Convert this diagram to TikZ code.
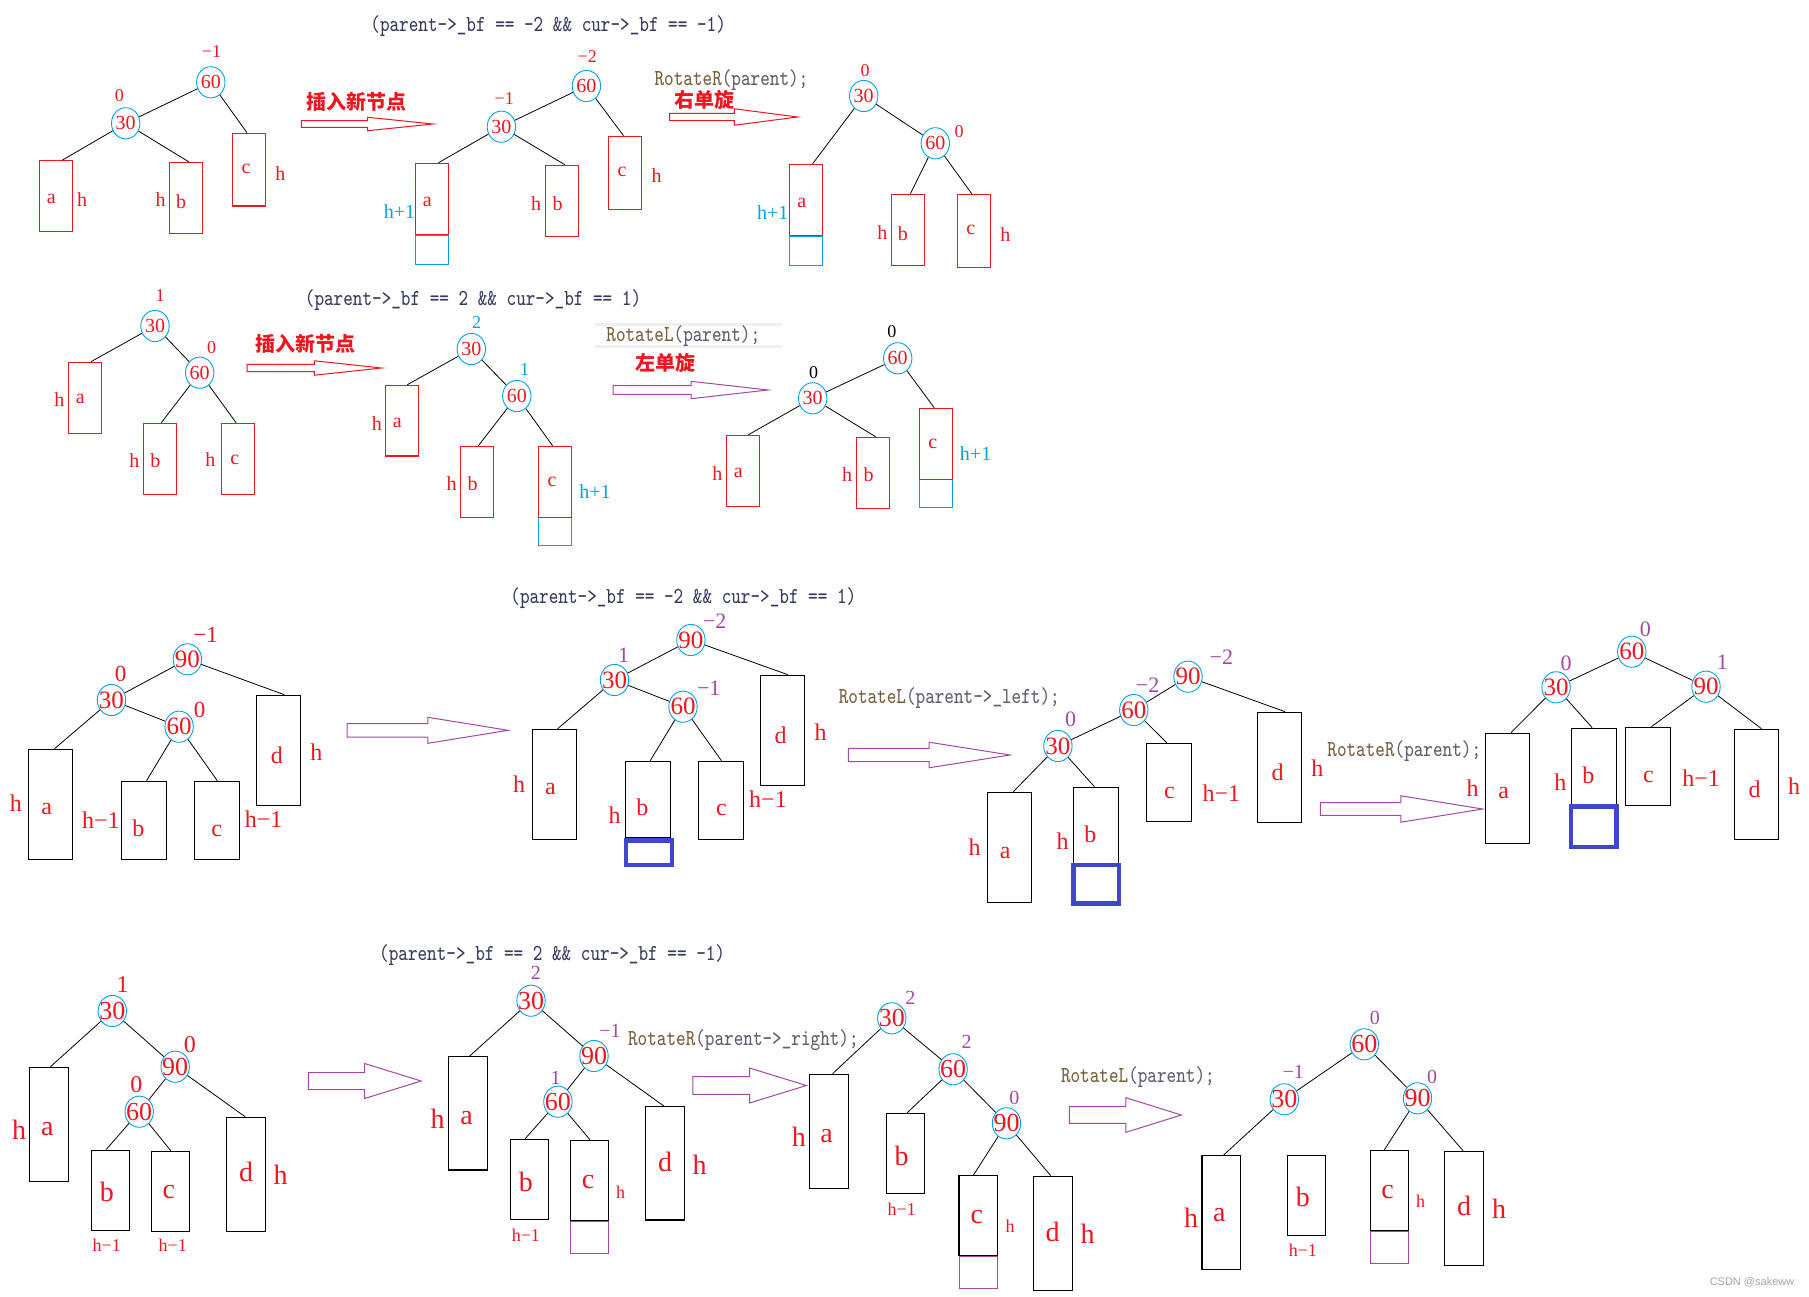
\documentclass[tikz,border=0pt]{standalone}
\usepackage{fontspec}
\setmainfont{Liberation Serif}
\newfontfamily\cjk{Noto Sans CJK SC}
\newfontfamily\wmfont{Liberation Sans}
\usetikzlibrary{shapes.geometric,fit,calc}
\definecolor{pred}{RGB}{240,22,32}
\definecolor{pcyan}{RGB}{0,162,232}
\definecolor{ppurple}{RGB}{163,73,164}
\definecolor{pblue}{RGB}{63,72,204}
\definecolor{condc}{RGB}{55,60,95}
\definecolor{rotc}{RGB}{120,95,60}
\definecolor{rotg}{RGB}{95,95,110}
\newcommand\fA{\fontsize{10}{12}\selectfont}
\newcommand\fAs{\fontsize{9}{11}\selectfont}
\newcommand\fB{\fontsize{12}{14}\selectfont}
\newcommand\fBn{\fontsize{12.5}{14}\selectfont}
\newcommand\fBs{\fontsize{11.5}{13}\selectfont}
\newcommand\fBp{\fontsize{11}{13}\selectfont}
\newcommand\fC{\fontsize{14}{16}\selectfont}
\newcommand\fCn{\fontsize{13}{15}\selectfont}
\newcommand\fCs{\fontsize{12}{14}\selectfont}
\newcommand\fCp{\fontsize{10}{12}\selectfont}
\newcommand\fCt{\fontsize{9}{11}\selectfont}
\newcounter{lc}
\newcommand\NN[5]{\node[en,font=#5] (#1) at (#2,#3) {\makebox[0pt]{#4}};}
\newcommand\BX[6]{\path (#3,#4) coordinate (#1p) (#5,#6) coordinate (#1q); \node[#2,fit=(#1p)(#1q)] (#1) {};}
\newcommand\LK[3]{\draw[lnk] (#1) -- ($(#2.north west)!#3!(#2.north east)$);}
\newcommand\EE[2]{\draw[lnk] (#1) -- (#2);}
\newcommand\LB[4]{\stepcounter{lc}\node[#1] (t\arabic{lc}) at (#2,#3) {#4};}
\newcommand\HA[7]{\draw[draw=#7,line width=0.5pt] (#1,{#4-#5}) -- (#2,{#4-#5}) -- (#2,{#4-#6}) -- (#3,#4) -- (#2,{#4+#6}) -- (#2,{#4+#5}) -- (#1,{#4+#5}) -- cycle;}
\begin{document}
\begin{tikzpicture}[x=0.5pt,y=-0.5pt,
 en/.style={ellipse,draw=pcyan,line width=0.45pt,minimum width=14.2pt,minimum height=15.6pt,inner sep=0pt,text=pred},
 lnk/.style={line width=0.4pt,black},
 rb/.style={draw=pred,line width=0.6pt,inner sep=0pt},
 kb/.style={draw=black,line width=0.6pt,inner sep=0pt},
 cb/.style={draw=pcyan,line width=0.6pt,inner sep=0pt},
 pb/.style={draw=ppurple,line width=0.5pt,inner sep=0pt},
 bb/.style={draw=pblue,line width=2.25pt,inner sep=0pt},
 lab/.style={inner sep=0pt},
 rA/.style={lab,text=pred,font=\fA},
 rAs/.style={lab,text=pred,font=\fAs},
 cA/.style={lab,text=pcyan,font=\fA},
 cAs/.style={lab,text=pcyan,font=\fAs},
 kAs/.style={lab,text=black,font=\fAs},
 rB/.style={lab,text=pred,font=\fB},
 rBs/.style={lab,text=pred,font=\fBs},
 pBs/.style={lab,text=ppurple,font=\fBp},
 rC/.style={lab,text=pred,font=\fC},
 rCs/.style={lab,text=pred,font=\fCs},
 pCs/.style={lab,text=ppurple,font=\fCp},
 rCt/.style={lab,text=pred,font=\fCt},
 code/.style={anchor=west,inner sep=0pt,text=condc,font=\ttfamily\fontsize{9.15}{11}\selectfont},
 zh/.style={inner sep=0pt,text=pred,font=\cjk\fontsize{10}{12}\selectfont\bfseries}]
\fill[white] (0,0) rectangle (1809,1296);
\useasboundingbox (0,0) rectangle (1809,1296);

% ===== code texts =====
\node[code] (k1) at (370,26) {\scalebox{1}[1.25]{(parent->\_bf == -2 \&\& cur->\_bf == -1)}};
\node[code] (k2) at (304.5,300) {\scalebox{1}[1.25]{(parent->\_bf == 2 \&\& cur->\_bf == 1)}};
\node[code] (k3) at (510,598.3) {\scalebox{1}[1.25]{(parent->\_bf == -2 \&\& cur->\_bf == 1)}};
\node[code] (k4) at (378.8,955) {\scalebox{1}[1.25]{(parent->\_bf == 2 \&\& cur->\_bf == -1)}};
\fill[gray!12] (595,322.7) rectangle (782,326);
\fill[gray!12] (595,345) rectangle (782,347.7);
\node[code] (k5) at (654.2,80) {\scalebox{1}[1.25]{\textcolor{rotc}{RotateR}\textcolor{rotg}{(parent);}}};
\node[code] (k6) at (606,336) {\scalebox{1}[1.25]{\textcolor{rotc}{RotateL}\textcolor{rotg}{(parent);}}};
\node[code] (k7) at (838.4,698.3) {\scalebox{1}[1.25]{\textcolor{rotc}{RotateL}\textcolor{rotg}{(parent->\_left);}}};
\node[code] (k8) at (1327,751) {\scalebox{1}[1.25]{\textcolor{rotc}{RotateR}\textcolor{rotg}{(parent);}}};
\node[code] (k9) at (627.7,1040) {\scalebox{1}[1.25]{\textcolor{rotc}{RotateR}\textcolor{rotg}{(parent->\_right);}}};
\node[code] (k10) at (1060.6,1076.7) {\scalebox{1}[1.25]{\textcolor{rotc}{RotateL}\textcolor{rotg}{(parent);}}};

% ===== chinese labels =====
\node[zh] (z1) at (356.9,101.7) {插入新节点};
\node[zh] (z2) at (704.5,100) {右单旋};
\node[zh] (z3) at (305.5,344) {插入新节点};
\node[zh] (z4) at (665,363.3) {左单旋};

% ===== arrows =====
\HA{301.3}{367.7}{433}{124}{3.3}{6.7}{pred}
\HA{669.6}{734.4}{797.7}{117}{3.7}{8.2}{pred}
\HA{247.1}{314.4}{381.6}{368}{3.7}{7.2}{pred}
\HA{613}{691}{768}{390}{4.3}{8.7}{ppurple}
\HA{347.2}{427.9}{508.1}{730.3}{6.7}{13}{ppurple}
\HA{848.3}{929}{1010}{755}{6.7}{12.8}{ppurple}
\HA{1320.4}{1400.8}{1482.7}{809}{6.3}{13.2}{ppurple}
\HA{308.4}{364.6}{421.1}{1081}{8.5}{17.5}{ppurple}
\HA{692.9}{749.5}{806.4}{1085.5}{8.8}{17.5}{ppurple}
\HA{1069.4}{1125.9}{1181.3}{1115}{8.3}{17.3}{ppurple}

% ===== Row 1 Tree 1 =====
\NN{aA}{210.8}{82.3}{60}{\fA}
\NN{aB}{125.7}{123.3}{30}{\fA}
\LB{rAs}{211.5}{52}{−1}
\LB{rAs}{119.4}{95.7}{0}
\BX{aa}{rb}{39.5}{160.7}{72.8}{231.3}
\BX{ab}{rb}{169.2}{162.7}{202.4}{233.3}
\BX{ac}{rb}{232.1}{133.3}{265.3}{206}
\LB{rA}{51.4}{199.3}{a}\LB{rA}{82.2}{199.3}{h}
\LB{rA}{160.5}{200}{h}\LB{rA}{181.1}{201.7}{b}
\LB{rA}{246}{169.3}{c}\LB{rA}{280.3}{173.3}{h}
\EE{aA}{aB}\LK{aB}{aa}{0.68}\LK{aB}{ab}{0.6}\LK{aA}{ac}{0.45}

% ===== Row 1 Tree 2 =====
\NN{bA}{586.4}{86}{60}{\fA}
\NN{bB}{501.4}{126.7}{30}{\fA}
\LB{rAs}{587.2}{56.7}{−2}
\LB{rAs}{504.2}{98.3}{−1}
\BX{bx}{cb}{415.6}{235.3}{448.4}{264.3}
\BX{ba}{rb}{415.6}{163.3}{448.4}{234.3}
\BX{bb2}{rb}{545.7}{165.3}{578.5}{236.3}
\BX{bc}{rb}{608.3}{136.3}{641.5}{209.3}
\LB{rA}{427.4}{201.7}{a}\LB{cA}{399.4}{211.7}{h+1}
\LB{rA}{536.2}{203.3}{h}\LB{rA}{557.5}{203.3}{b}
\LB{rA}{622.1}{172.3}{c}\LB{rA}{656.5}{175.7}{h}
\EE{bA}{bB}\LK{bB}{ba}{0.69}\LK{bB}{bb2}{0.58}\LK{bA}{bc}{0.46}

% ===== Row 1 Tree 3 =====
\NN{cA}{863.7}{96}{30}{\fA}
\NN{cB}{935.3}{143.3}{60}{\fA}
\LB{rAs}{865}{70.7}{0}
\LB{rAs}{959}{131.7}{0}
\BX{cx}{cb}{789.8}{236.3}{822.6}{265.7}
\BX{ca}{rb}{789.8}{164.3}{822.6}{235.7}
\BX{cb2}{rb}{891.4}{194.3}{924.6}{265.7}
\BX{cc}{rb}{957.5}{194.3}{990.7}{267.3}
\LB{rA}{801.7}{203.3}{a}\LB{cA}{772.8}{212.3}{h+1}
\LB{rA}{882.3}{232.3}{h}\LB{rA}{902.9}{233.3}{b}
\LB{rA}{970.9}{230}{c}\LB{rA}{1005.3}{234.3}{h}
\EE{cA}{cB}\LK{cA}{ca}{0.69}\LK{cB}{cb2}{0.57}\LK{cB}{cc}{0.43}

% ===== Row 2 Tree 1 =====
\NN{dA}{155}{326}{30}{\fA}
\NN{dB}{199.7}{372.7}{60}{\fA}
\LB{rAs}{160.1}{296}{1}
\LB{rAs}{211.5}{347.7}{0}
\BX{da}{rb}{68.8}{362.3}{101.6}{433.3}
\BX{db}{rb}{143.5}{423.3}{176.4}{494.3}
\BX{dc}{rb}{221.4}{423.3}{254.2}{494.3}
\LB{rA}{59.3}{399.3}{h}\LB{rA}{80.3}{399.3}{a}
\LB{rA}{134.4}{461}{h}\LB{rA}{155.4}{461}{b}
\LB{rA}{210.4}{460}{h}\LB{rA}{234.9}{460}{c}
\EE{dA}{dB}\LK{dA}{da}{0.67}\LK{dB}{db}{0.54}\LK{dB}{dc}{0.45}

% ===== Row 2 Tree 2 =====
\NN{eA}{471.3}{349}{30}{\fA}
\NN{eB}{516.8}{396}{60}{\fA}
\LB{cAs}{476.5}{322.7}{2}
\LB{cAs}{524.7}{370}{1}
\BX{ex}{cb}{538.5}{517.3}{571.4}{545.3}
\BX{ea}{rb}{385.5}{385.3}{418.3}{456}
\BX{eb}{rb}{460.3}{446.3}{493.1}{517.3}
\BX{ec}{rb}{538.5}{446.3}{571.4}{517.3}
\LB{rA}{376.8}{423.3}{h}\LB{rA}{397.4}{423.3}{a}
\LB{rA}{451.6}{484}{h}\LB{rA}{472.5}{484}{b}
\LB{rA}{552}{482.3}{c}\LB{cA}{595.1}{491.7}{h+1}
\EE{eA}{eB}\LK{eA}{ea}{0.66}\LK{eB}{eb}{0.55}\LK{eB}{ec}{0.43}

% ===== Row 2 Tree 3 =====
\NN{fA}{897.7}{358.3}{60}{\fA}
\NN{fB}{812.7}{398.3}{30}{\fA}
\LB{kAs}{891.8}{331.7}{0}
\LB{kAs}{813.5}{372.7}{0}
\BX{fx}{cb}{919.5}{479.3}{952.3}{507.7}
\BX{fa}{rb}{726.5}{435.3}{759.4}{506.7}
\BX{fb}{rb}{856.2}{437.3}{889.4}{508.7}
\BX{fc}{rb}{919.5}{408.3}{952.3}{479.3}
\LB{rA}{717.4}{473.3}{h}\LB{rA}{738.4}{473.3}{a}
\LB{rA}{847.1}{475}{h}\LB{rA}{868.5}{475}{b}
\LB{rA}{932.9}{444}{c}\LB{cA}{975.6}{453.3}{h+1}
\EE{fA}{fB}\LK{fB}{fa}{0.66}\LK{fB}{fb}{0.58}\LK{fA}{fc}{0.45}

% ===== Row 3 Tree 1 =====
\NN{gA}{187.4}{659.3}{90}{\fBn}
\NN{gB}{111.5}{700}{30}{\fBn}
\NN{gC}{179.1}{726.7}{60}{\fBn}
\LB{rBs}{205.6}{635}{−1}
\LB{rBs}{120.6}{674.3}{0}
\LB{rBs}{199.7}{710}{0}
\BX{ga}{kb}{28.5}{749.3}{72.4}{859.3}
\BX{gb}{kb}{121.4}{781.3}{166.1}{859.3}
\BX{gc}{kb}{194.5}{781.3}{239.2}{859.3}
\BX{gd}{kb}{256.2}{695.3}{300.5}{805.3}
\LB{rB}{15.8}{803.3}{h}\LB{rB}{46.7}{809.3}{a}
\LB{rB}{100.8}{820}{h−1}\LB{rB}{138.4}{828.3}{b}
\LB{rB}{216.7}{830.7}{c}\LB{rB}{263.7}{819}{h−1}
\LB{rB}{276.8}{755}{d}\LB{rB}{316.3}{751.7}{h}
\EE{gA}{gB}\EE{gB}{gC}\LK{gB}{ga}{0.59}\LK{gC}{gb}{0.56}\LK{gC}{gc}{0.51}\LK{gA}{gd}{0.63}

% ===== Row 3 Tree 2 =====
\NN{hA}{690.9}{640}{90}{\fBn}
\NN{hB}{614.5}{680}{30}{\fBn}
\NN{hC}{683}{706.7}{60}{\fBn}
\LB{pBs}{714.7}{621.7}{−2}
\LB{pBs}{623.7}{655}{1}
\LB{pBs}{708.7}{688.3}{−1}
\BX{ha}{kb}{532.6}{729.3}{576.5}{839.3}
\BX{hb}{kb}{625.3}{761.3}{670.4}{837.3}
\BX{hx}{bb}{626}{840.5}{672}{865}
\BX{hc}{kb}{698.5}{761.3}{743.5}{839.3}
\BX{hd}{kb}{760.5}{675.3}{804.4}{785.3}
\LB{rB}{519.2}{784}{h}\LB{rB}{550.4}{789.3}{a}
\LB{rB}{614.5}{815}{h}\LB{rB}{642.3}{807.7}{b}
\LB{rB}{721.4}{810}{c}\LB{rB}{768}{799.3}{h−1}
\LB{rB}{780.7}{735}{d}\LB{rB}{820.6}{731.7}{h}
\EE{hA}{hB}\EE{hB}{hC}\LK{hB}{ha}{0.57}\LK{hC}{hb}{0.55}\LK{hC}{hc}{0.51}\LK{hA}{hd}{0.62}

% ===== Row 3 Tree 3 =====
\NN{iA}{1188}{676.7}{90}{\fBn}
\NN{iB}{1133.8}{710}{60}{\fBn}
\NN{iC}{1057.9}{746}{30}{\fBn}
\LB{pBs}{1221.4}{657.3}{−2}
\LB{pBs}{1147.6}{685}{−2}
\LB{pBs}{1070.5}{719.3}{0}
\BX{ia}{kb}{987.5}{792.3}{1031.8}{902.3}
\BX{ib}{kb}{1073.3}{787.3}{1118.4}{863.3}
\BX{ix}{bb}{1073.5}{865}{1119}{903.7}
\BX{ic}{kb}{1146.5}{743.3}{1191.5}{821.3}
\BX{id}{kb}{1257.5}{712.3}{1301.7}{822.3}
\LB{rB}{974.5}{846.7}{h}\LB{rB}{1005.3}{852.7}{a}
\LB{rB}{1062.6}{841}{h}\LB{rB}{1090.3}{834}{b}
\LB{rB}{1169.4}{792.7}{c}\LB{rB}{1221.4}{793.3}{h−1}
\LB{rB}{1277.7}{772.7}{d}\LB{rB}{1317.3}{768.3}{h}
\EE{iA}{iB}\EE{iB}{iC}\LK{iC}{ia}{0.58}\LK{iC}{ib}{0.47}\LK{iB}{ic}{0.45}\LK{iA}{id}{0.62}

% ===== Row 3 Tree 4 =====
\NN{jA}{1631.8}{651.7}{60}{\fBn}
\NN{jB}{1556.1}{687.3}{30}{\fBn}
\NN{jC}{1706}{686.7}{90}{\fBn}
\LB{pBs}{1645.4}{629.3}{0}
\LB{pBs}{1566.2}{663.3}{0}
\LB{pBs}{1722.3}{662.7}{1}
\BX{ja}{kb}{1485.4}{733.3}{1529.3}{843.3}
\BX{jb}{kb}{1571.7}{728.3}{1616.3}{804.3}
\BX{jx}{bb}{1571.2}{806.3}{1616.3}{847}
\BX{jc}{kb}{1625.6}{727.3}{1670.7}{805.3}
\BX{jd}{kb}{1734.4}{729.3}{1778.6}{839.3}
\LB{rB}{1472.6}{788.3}{h}\LB{rB}{1503.7}{793.3}{a}
\LB{rB}{1560.4}{781.7}{h}\LB{rB}{1588.3}{775}{b}
\LB{rB}{1648.5}{776.7}{c}\LB{rB}{1701}{778.3}{h−1}
\LB{rB}{1754.6}{789.3}{d}\LB{rB}{1794.2}{785.7}{h}
\EE{jA}{jB}\EE{jA}{jC}\LK{jB}{ja}{0.58}\LK{jB}{jb}{0.46}\LK{jC}{jc}{0.57}\LK{jC}{jd}{0.61}

% ===== Row 4 Tree 1 =====
\NN{mA}{112.3}{1011}{30}{\fCn}
\NN{mB}{175.2}{1066.7}{90}{\fCn}
\NN{mC}{139.2}{1111.7}{60}{\fCn}
\LB{rCs}{122.6}{985}{1}
\LB{rCs}{189.8}{1045}{0}
\LB{rCs}{136.4}{1085}{0}
\BX{ma}{kb}{29.3}{1067.3}{68.4}{1181.3}
\BX{mb}{kb}{91.3}{1150.3}{129.3}{1230.3}
\BX{mc}{kb}{151.4}{1151.3}{189.4}{1231.3}
\BX{md}{kb}{226.6}{1117.3}{265.3}{1231.3}
\LB{rC}{19}{1130}{h}\LB{rC}{47.4}{1129}{a}
\LB{rC}{106.8}{1192.3}{b}\LB{rCt}{106.8}{1245.7}{h−1}
\LB{rC}{168.8}{1192.3}{c}\LB{rCt}{172.8}{1245.7}{h−1}
\LB{rC}{246}{1172.3}{d}\LB{rC}{280.7}{1175}{h}
\EE{mA}{mB}\EE{mB}{mC}\LK{mA}{ma}{0.54}\LK{mC}{mb}{0.39}\LK{mC}{mc}{0.51}\LK{mB}{md}{0.48}

% ===== Row 4 Tree 2 =====
\NN{nA}{531}{1000.7}{30}{\fCn}
\NN{nB}{594}{1056}{90}{\fCn}
\NN{nC}{557.9}{1101.7}{60}{\fCn}
\LB{pCs}{535.8}{973.3}{2}
\LB{pCs}{610}{1031}{−1}
\LB{pCs}{555.6}{1077.7}{1}
\BX{na}{kb}{448.4}{1056.7}{487.5}{1170}
\BX{nb}{kb}{510.5}{1139.3}{548.4}{1219.3}
\BX{nx}{pb}{570.6}{1221.3}{608.5}{1253.3}
\BX{nc}{kb}{570.6}{1140.3}{608.5}{1220.3}
\BX{nd}{kb}{645.5}{1106.7}{684.2}{1220}
\LB{rC}{437.7}{1118.3}{h}\LB{rC}{466.6}{1117.7}{a}
\LB{rC}{525.9}{1182.3}{b}\LB{rCt}{525.9}{1235}{h−1}
\LB{rC}{588}{1181.7}{c}\LB{rCt}{620.6}{1192.7}{h}
\LB{rC}{665.2}{1161.7}{d}\LB{rC}{699.6}{1165}{h}
\EE{nA}{nB}\EE{nB}{nC}\LK{nA}{na}{0.54}\LK{nC}{nb}{0.39}\LK{nC}{nc}{0.51}\LK{nB}{nd}{0.48}

% ===== Row 4 Tree 3 =====
\NN{oA}{891.8}{1018.3}{30}{\fCn}
\NN{oB}{953.1}{1069.3}{60}{\fCn}
\NN{oC}{1006.5}{1123.3}{90}{\fCn}
\LB{pCs}{910.4}{997.7}{2}
\LB{pCs}{966.5}{1041.7}{2}
\LB{pCs}{1014.4}{1098.3}{0}
\BX{oa}{kb}{809.6}{1074.3}{848.3}{1188.3}
\BX{ob}{kb}{886.3}{1113.3}{924.2}{1193.3}
\BX{ox}{pb}{959}{1256}{997.4}{1288.3}
\BX{oc}{kb}{959}{1175.7}{997.4}{1255.7}
\BX{od}{kb}{1033.4}{1176.3}{1072.1}{1290.3}
\LB{rC}{798.9}{1136.7}{h}\LB{rC}{826.6}{1135.7}{a}
\LB{rC}{901.7}{1155.7}{b}\LB{rCt}{901.7}{1209.3}{h−1}
\LB{rC}{976.8}{1216.7}{c}\LB{rCt}{1010}{1226.7}{h}
\LB{rC}{1052.7}{1231.7}{d}\LB{rC}{1087.5}{1234}{h}
\EE{oA}{oB}\EE{oB}{oC}\LK{oA}{oa}{0.59}\LK{oB}{ob}{0.55}\LK{oC}{oc}{0.38}\LK{oC}{od}{0.45}

% ===== Row 4 Tree 4 =====
\NN{qA}{1364.3}{1044.3}{60}{\fCn}
\NN{qB}{1284.3}{1099.3}{30}{\fCn}
\NN{qC}{1417.5}{1098.3}{90}{\fCn}
\LB{pCs}{1374.8}{1018.3}{0}
\LB{pCs}{1293.2}{1071.7}{−1}
\LB{pCs}{1432.2}{1076.7}{0}
\BX{qa}{kb}{1201.9}{1155.7}{1240.4}{1269.3}
\BX{qb}{kb}{1287.4}{1155.7}{1325.4}{1235.3}
\BX{qx}{pb}{1370.5}{1231.3}{1408.5}{1263.3}
\BX{qc}{kb}{1370.5}{1150.3}{1408.5}{1230.3}
\BX{qd}{kb}{1444.3}{1151.3}{1483.5}{1265.3}
\LB{rC}{1191.1}{1217.3}{h}\LB{rC}{1219.4}{1215}{a}
\LB{rC}{1302.9}{1196.7}{b}\LB{rCt}{1302.9}{1250.7}{h−1}
\LB{rC}{1387.6}{1191.7}{c}\LB{rCt}{1420.6}{1201.7}{h}
\LB{rC}{1464.1}{1206}{d}\LB{rC}{1499}{1208.3}{h}
\EE{qA}{qB}\EE{qA}{qC}\LK{qB}{qa}{0.56}\LK{qC}{qc}{0.37}\LK{qC}{qd}{0.48}

% watermark
\node[inner sep=0pt,text=gray!70,font=\wmfont\fontsize{5.5}{7}\selectfont] (wm) at (1752,1282) {CSDN @sakeww};
\end{tikzpicture}
\end{document}
